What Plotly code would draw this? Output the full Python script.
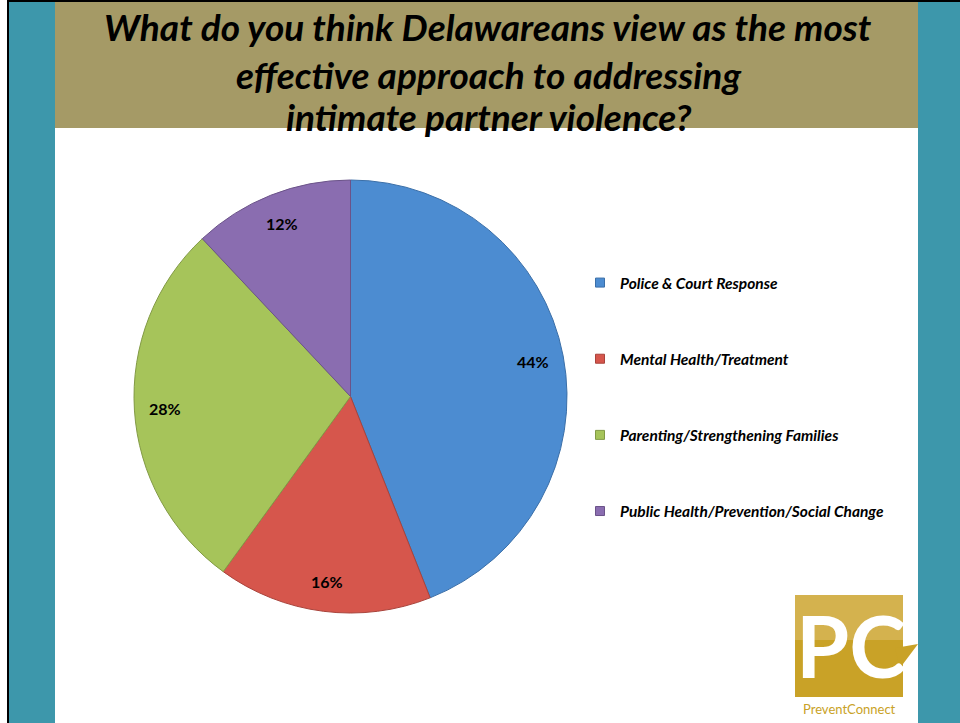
import numpy as np
import plotly.graph_objects as go

W, H = 960, 723

# ---- data ----
categories = ["Police & Court Response", "Mental Health/Treatment",
              "Parenting/Strengthening Families", "Public Health/Prevention/Social Change"]
values = [44, 16, 28, 12]
colors = ["#4C8CD1", "#D6564C", "#A6C45A", "#8A6DB0"]
line_colors = ["#3B6FA8", "#A9433B", "#829A45", "#6B5389"]
title_lines = ["What do you think Delawareans view as the most",
               "effective approach to addressing",
               "intimate partner violence?"]

FONT = "Lato"

def px_x(x):
    return x / W

def px_y(y):
    return 1 - y / H

# pie domain in pixels
pie_x0, pie_x1, pie_y0, pie_y1 = 134, 567, 180, 613
dom_x = [px_x(pie_x0), px_x(pie_x1)]
dom_y = [px_y(pie_y1), px_y(pie_y0)]

fig = go.Figure()

fig.add_trace(go.Pie(
    labels=categories, values=values, sort=False, direction="clockwise", rotation=0,
    marker=dict(colors=colors, line=dict(color=line_colors, width=1)),
    textinfo="none", hoverinfo="label+percent", showlegend=False,
    domain=dict(x=dom_x, y=dom_y),
))

# legend entries as dummy traces (one group each so gap can be set)
for cat, col, lc in zip(categories, colors, line_colors):
    fig.add_trace(go.Scatter(
        x=[None], y=[None], mode="markers", name=cat, legendgroup=cat,
        marker=dict(symbol="square", size=9, color=col, line=dict(color=lc, width=1)),
    ))

# percentage labels placed along each slice's mid angle
cx = (pie_x0 + pie_x1) / 2
cy = (pie_y0 + pie_y1) / 2
R = (pie_x1 - pie_x0) / 2
vals = np.array(values, dtype=float)
cum = np.cumsum(vals) - vals / 2
mid = cum / vals.sum() * 2 * np.pi
annotations = []
for v, a in zip(values, mid):
    lx = cx + 0.86 * R * np.sin(a)
    ly = cy - 0.86 * R * np.cos(a)
    annotations.append(dict(
        x=px_x(lx), y=px_y(ly), xref="paper", yref="paper", text=f"{v}%",
        showarrow=False, font=dict(family=FONT, size=16, color="black", weight="bold"),
        xanchor="center", yanchor="middle"))

# title
title_y = [27, 75, 117]
for t, ty in zip(title_lines, title_y):
    annotations.append(dict(
        x=px_x(488), y=px_y(ty), xref="paper", yref="paper",
        text=f"<b><i>{t}</i></b>", showarrow=False,
        font=dict(family=FONT, size=37, color="black"),
        xanchor="center", yanchor="middle"))

# logo texts
annotations.append(dict(
    x=px_x(851), y=px_y(644), xref="paper", yref="paper", text="<b>PC</b>",
    showarrow=False, font=dict(family=FONT, size=86, color="white"),
    xanchor="center", yanchor="middle"))
annotations.append(dict(
    x=px_x(849), y=px_y(709), xref="paper", yref="paper", text="PreventConnect",
    showarrow=False, font=dict(family=FONT, size=13, color="#C9A227"),
    xanchor="center", yanchor="middle"))

def rect(x0, y0, x1, y1, color, layer="below"):
    return dict(type="rect", xref="paper", yref="paper",
                x0=px_x(x0), x1=px_x(x1), y0=px_y(y1), y1=px_y(y0),
                fillcolor=color, line=dict(width=0), layer=layer)

shapes = [
    rect(7, 0, 960, 2, "black"),
    rect(7, 0, 9, 723, "black"),
    rect(9, 2, 55, 723, "#3D97AB"),
    rect(918, 2, 960, 723, "#3D97AB"),
    rect(55, 2, 918, 128, "#A59A66"),
    # logo
    rect(795, 595, 903, 697, "#C9A227"),
    rect(795, 595, 903, 640, "#D4B24E"),
    dict(type="path", xref="paper", yref="paper",
         path=f"M {px_x(895)},{px_y(648)} L {px_x(918)},{px_y(644)} L {px_x(900)},{px_y(668)} Z",
         fillcolor="#C9A227", line=dict(width=0), layer="below"),
]

fig.update_layout(
    width=W, height=H, margin=dict(l=0, r=0, t=0, b=0),
    paper_bgcolor="white", plot_bgcolor="white",
    xaxis=dict(visible=False, domain=[0.99, 1.0]), yaxis=dict(visible=False, domain=[0.99, 1.0]),
    shapes=shapes, annotations=annotations,
    legend=dict(x=px_x(580), y=px_y(266), xanchor="left", yanchor="top",
                tracegroupgap=53, bgcolor="rgba(0,0,0,0)",
                font=dict(family=FONT, size=15.5, color="black", weight="bold", style="italic")),
    showlegend=True,
)

fig.write_html("out.html")
